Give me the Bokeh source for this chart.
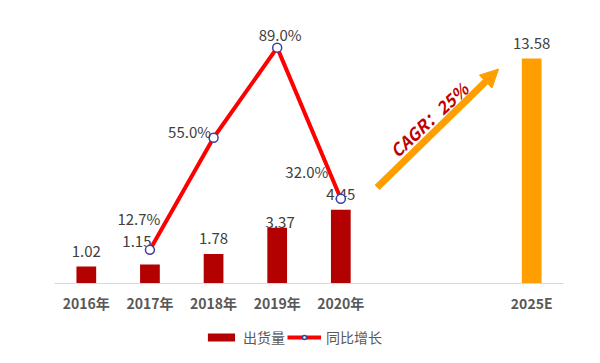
from bokeh.plotting import figure
from bokeh.layouts import column
from bokeh.models import (FactorRange, Range1d, ColumnDataSource, Legend, LegendItem,
                          Arrow, NormalHead, Label)
from bokeh.core.properties import value
from bokeh.embed import file_html
from bokeh.resources import INLINE

# ---- data ----
categories = ["2016年", "2017年", "2018年", "2019年", "2020年", " ", "  ", "2025E"]
bar_cats = ["2016年", "2017年", "2018年", "2019年", "2020年", "2025E"]
shipments = [1.02, 1.15, 1.78, 3.37, 4.45, 13.58]
shipment_labels = ["1.02", "1.15", "1.78", "3.37", "4.45", "13.58"]
growth_cats = ["2017年", "2018年", "2019年", "2020年"]
growth = [12.7, 55.0, 89.0, 32.0]
growth_labels = ["12.7%", "55.0%", "89.0%", "32.0%"]
cagr_text = "CAGR：25%"
series_names = ["出货量", "同比增长"]

FONT = "Noto Sans CJK SC"
RED = "#B30000"
ORANGE = "#FF9E00"
bar_colors = [RED] * 5 + [ORANGE]

p = figure(x_range=FactorRange(*categories, range_padding=0), y_range=Range1d(0, 16),
           width=600, height=318, output_backend="svg", toolbar_location=None,
           min_border_left=54, min_border_right=37, min_border_top=18, min_border_bottom=35,
           y_axis_location=None, background_fill_color="white", border_fill_color="white")
p.outline_line_color = None
p.xgrid.visible = False
p.ygrid.visible = False
p.extra_y_ranges = {"pct": Range1d(0, 100)}

p.xaxis.axis_line_color = "#D9D9D9"
p.xaxis.major_tick_line_color = None
p.xaxis.minor_tick_line_color = None
p.xaxis.major_label_text_font = FONT
p.xaxis.major_label_text_font_style = "bold"
p.xaxis.major_label_text_font_size = "14px"
p.xaxis.major_label_text_color = "#595959"
p.xaxis.major_label_standoff = 3

src = ColumnDataSource(dict(x=bar_cats, y=shipments, c=bar_colors, lab=shipment_labels,
                            dx=[0, -13, 0, 3, 0, 0], dy=[-10, -17, -10, 0, -10, -10]))
p.vbar(x="x", top="y", width=0.31, source=src, fill_color="c", line_color=None)
p.text(x="x", y="y", text="lab", source=src, x_offset="dx", y_offset="dy",
       text_align="center", text_baseline="bottom", text_font=value(FONT),
       text_font_size="15px", text_color="#404040")

gsrc = ColumnDataSource(dict(x=growth_cats, y=growth, lab=growth_labels,
                             dx=[-11, -24, 3, -34], dy=[-31, -6, -13, -27]))
p.line(x="x", y="y", source=gsrc, y_range_name="pct", line_color="#FF0000", line_width=4)
p.scatter(x="x", y="y", source=gsrc, y_range_name="pct", marker="circle", size=9,
          fill_color="white", line_color="#3F3FA0", line_width=1.5)
p.text(x="x", y="y", text="lab", source=gsrc, y_range_name="pct", x_offset="dx", y_offset="dy",
       text_align="center", text_baseline="middle", text_font=value(FONT),
       text_font_size="15px", text_color="#404040")

# CAGR arrow (data coordinates on the numeric factor axis / primary value axis)
arrow = Arrow(x_start=5.07, y_start=5.8, x_end=6.98, y_end=12.95,
              line_color=ORANGE, line_width=7,
              end=NormalHead(size=18, fill_color=ORANGE, line_color=ORANGE))
p.add_layout(arrow)
p.add_layout(Label(x=5.88, y=9.9, text=cagr_text, angle=43, angle_units="deg",
                   text_align="center", text_baseline="middle", text_font=FONT,
                   text_font_size="17px", text_font_style="bold italic", text_color="#C00000"))

# ---- legend strip below the chart (same data, drawn outside the strip's visible range) ----
lg = figure(width=600, height=45, output_backend="svg", toolbar_location=None,
            x_range=FactorRange(*categories, range_padding=0), y_range=Range1d(1000, 1001),
            x_axis_location=None, y_axis_location=None,
            min_border_left=0, min_border_right=0, min_border_top=0, min_border_bottom=0,
            background_fill_color="white", border_fill_color="white")
lg.outline_line_color = None
lg.xgrid.visible = False
lg.ygrid.visible = False
r_bar = lg.vbar(x="x", top="y", width=0.31, source=src, fill_color=RED, line_color=None)
r_line = lg.line(x="x", y="y", source=gsrc, line_color="#FF0000", line_width=4)
r_pts = lg.scatter(x="x", y="y", source=gsrc, marker="circle", size=11,
                   fill_color="white", line_color="#3F3FA0", line_width=1.5)
legend = Legend(items=[LegendItem(label=series_names[0], renderers=[r_bar]),
                       LegendItem(label=series_names[1], renderers=[r_line, r_pts])],
                orientation="horizontal", location=(150, 16), padding=0, margin=0,
                glyph_width=34, glyph_height=10, label_standoff=5, spacing=2,
                label_text_font=FONT, label_text_font_size="14px", label_text_color="#595959",
                background_fill_alpha=0, border_line_color=None)
lg.add_layout(legend, "center")

open("out.html", "w").write(file_html(column(p, lg, spacing=0), INLINE))
